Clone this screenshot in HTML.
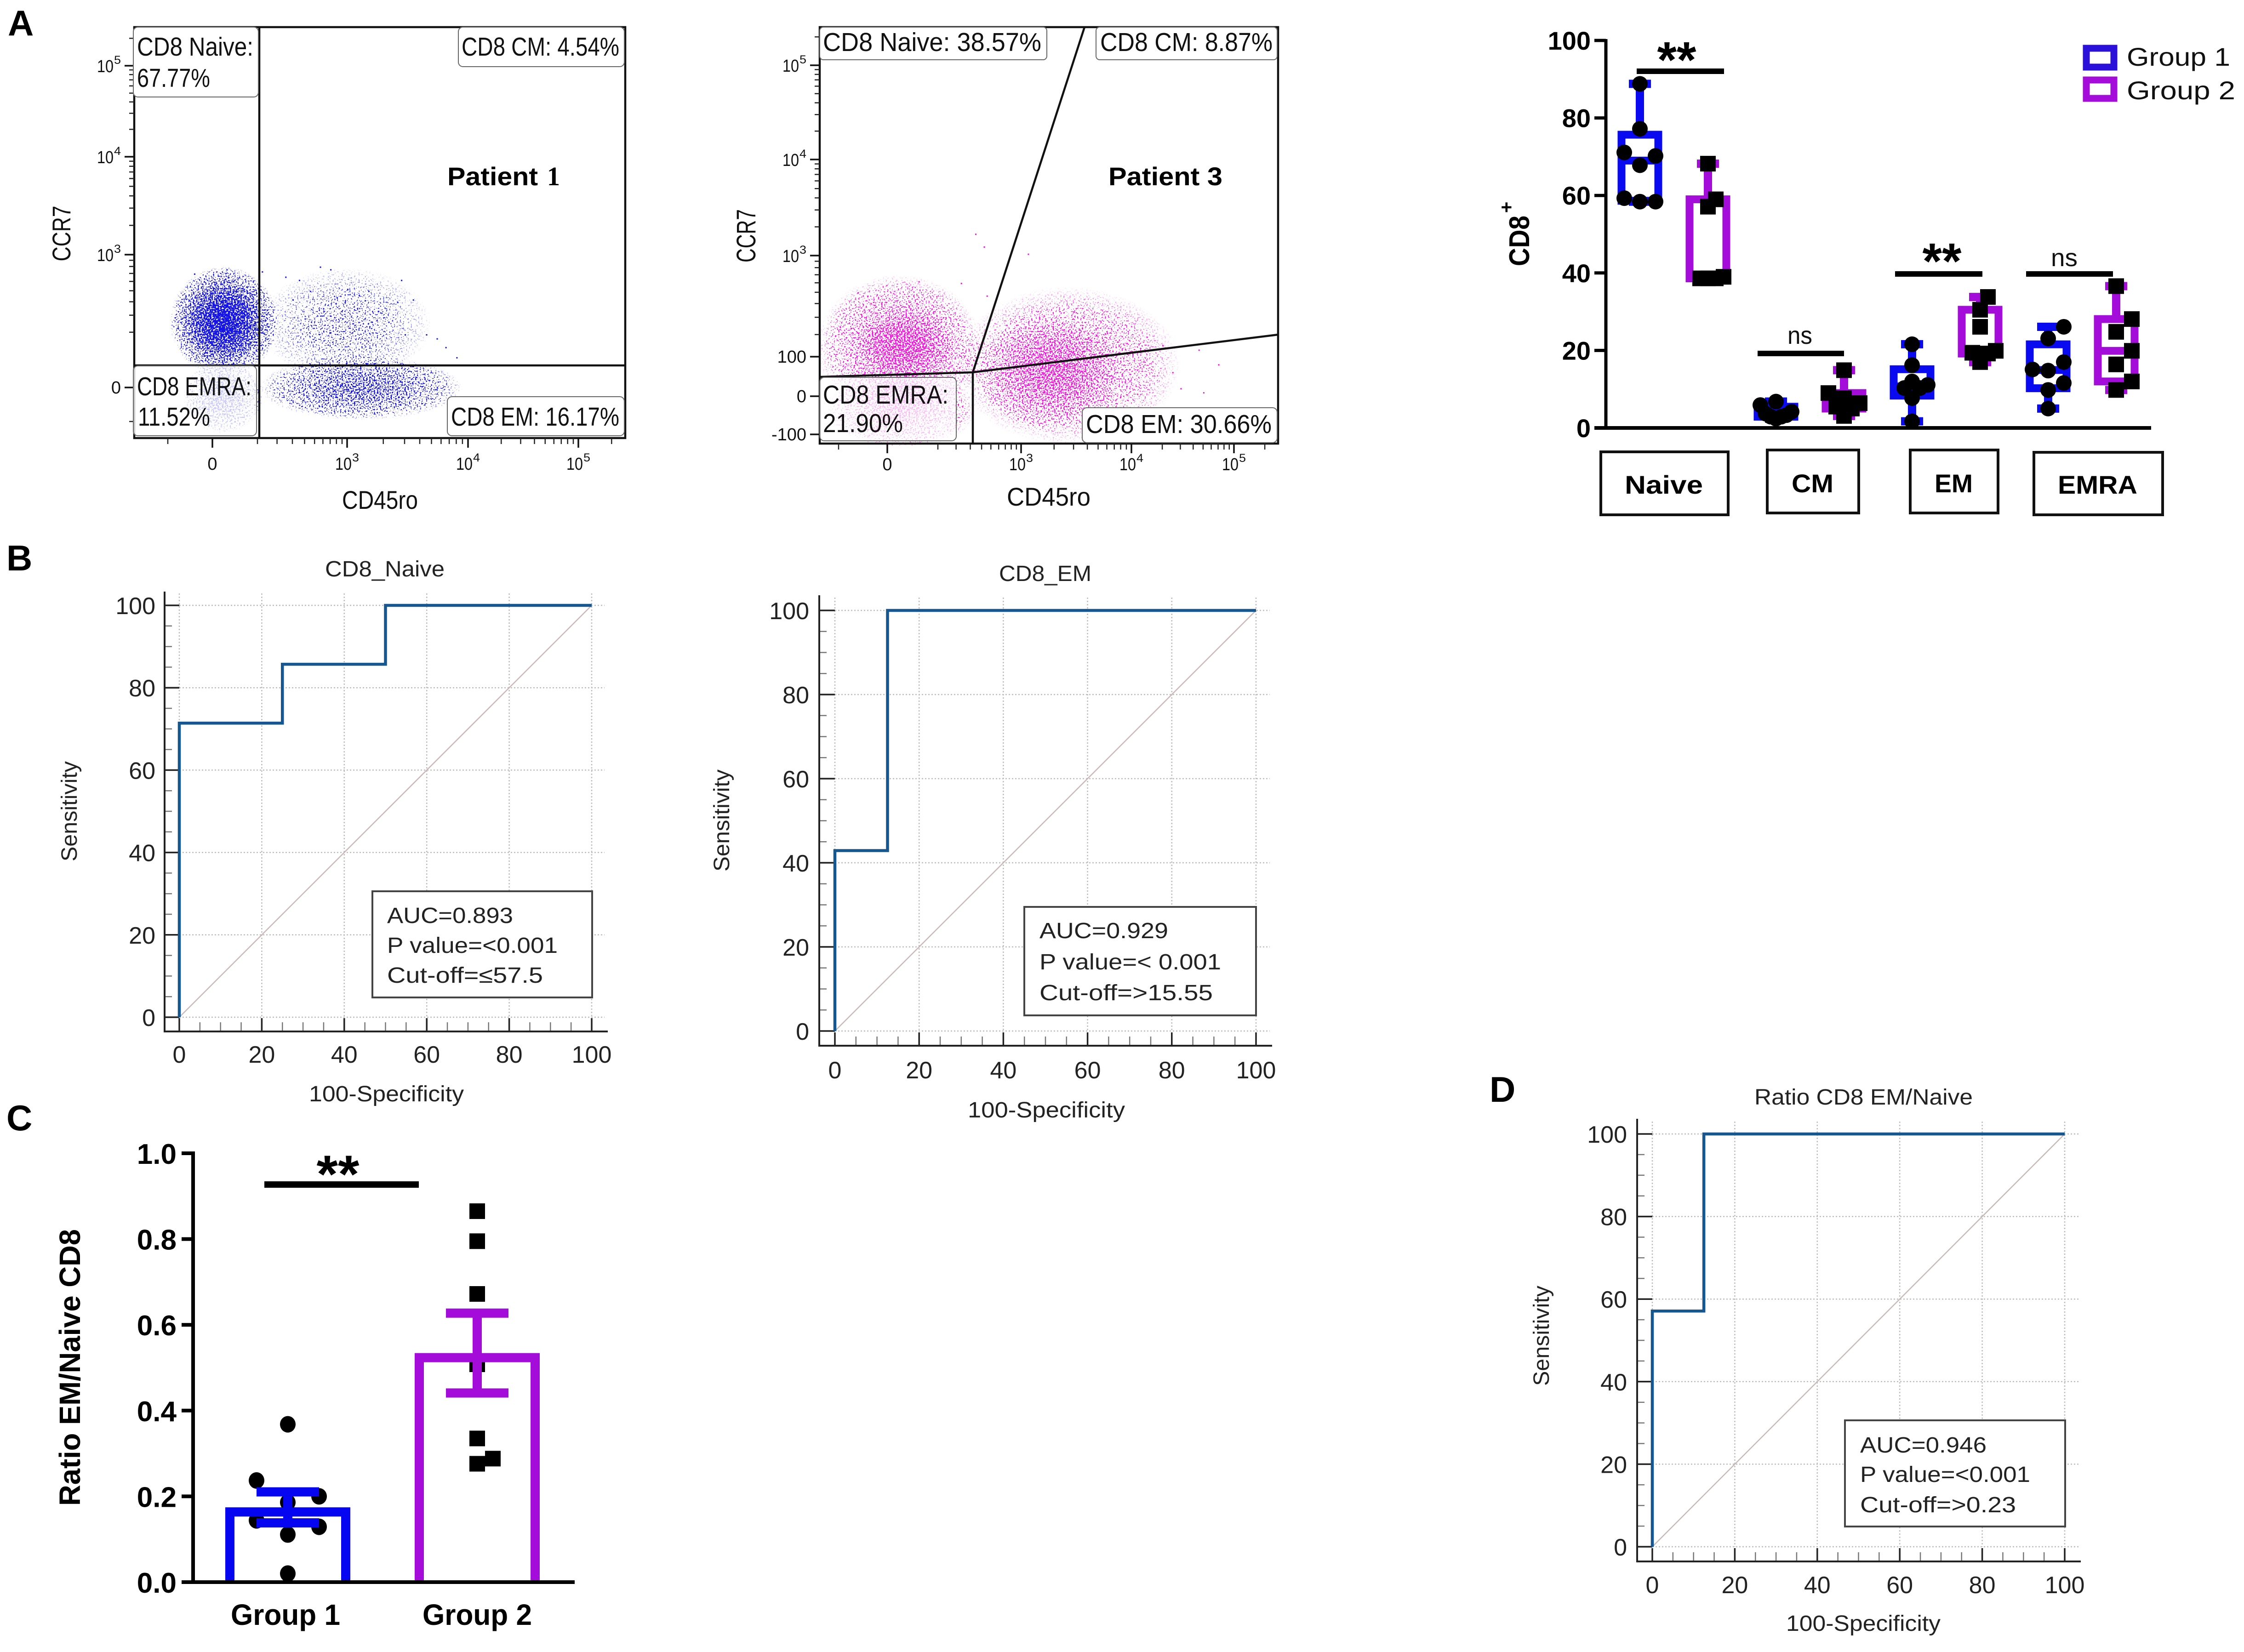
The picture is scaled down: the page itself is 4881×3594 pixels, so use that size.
<!DOCTYPE html>
<html lang="en">
<head>
<meta charset="utf-8">
<title>CD8 T-cell subset figure</title>
<style>
html,body{margin:0;padding:0;background:#fff;}
svg{display:block;}
text{font-family:"Liberation Sans",Arial,sans-serif;fill:#111;}
.b{font-weight:bold;fill:#000;}
.panel{font-weight:bold;font-size:78px;fill:#000;}
.roc{font-size:48px;fill:#222;}
.flow{font-size:57px;fill:#111;}
</style>
</head>
<body>
<svg id="figure" xmlns="http://www.w3.org/2000/svg" width="4881" height="3594" viewBox="0 0 4881 3594">
<defs>
<filter id="speckle-blue" filterUnits="userSpaceOnUse" x="280" y="50" width="1100" height="910" color-interpolation-filters="sRGB">
<feTurbulence type="fractalNoise" baseFrequency="0.3" numOctaves="2" seed="4" result="n"/>
<feColorMatrix in="n" type="matrix" values="0 0 0 0 0 0 0 0 0 0 0 0 0 0 0 3.2 0 0 0 -1.1" result="na"/>
<feComposite in="SourceAlpha" in2="na" operator="arithmetic" k1="0" k2="1" k3="1" k4="-1" result="sum"/>
<feComponentTransfer in="sum" result="mask"><feFuncA type="linear" slope="7"/></feComponentTransfer>
<feFlood flood-color="#1414e6"/>
<feComposite in2="mask" operator="in"/>
</filter>
<filter id="speckle-pink" filterUnits="userSpaceOnUse" x="1770" y="50" width="1020" height="920" color-interpolation-filters="sRGB">
<feTurbulence type="fractalNoise" baseFrequency="0.3" numOctaves="2" seed="9" result="n"/>
<feColorMatrix in="n" type="matrix" values="0 0 0 0 0 0 0 0 0 0 0 0 0 0 0 3.2 0 0 0 -1.1" result="na"/>
<feComposite in="SourceAlpha" in2="na" operator="arithmetic" k1="0" k2="1" k3="1" k4="-1" result="sum"/>
<feComponentTransfer in="sum" result="mask"><feFuncA type="linear" slope="7"/></feComponentTransfer>
<feFlood flood-color="#f414dc"/>
<feComposite in2="mask" operator="in"/>
</filter>
<radialGradient id="density-gradient">
<stop offset="0" stop-color="#000" stop-opacity="1"/>
<stop offset="0.35" stop-color="#000" stop-opacity="0.8"/>
<stop offset="0.6" stop-color="#000" stop-opacity="0.55"/>
<stop offset="0.85" stop-color="#000" stop-opacity="0.25"/>
<stop offset="1" stop-color="#000" stop-opacity="0"/>
</radialGradient>
</defs>

<rect x="0" y="0" width="4881" height="3594" fill="#fff"/>

<text class="panel" x="17" y="77">A</text>
<text class="panel" x="14" y="1241">B</text>
<text class="panel" x="14" y="2459">C</text>
<text class="panel" x="3240" y="2397">D</text>

<!-- Flow plot 1 -->
<g id="flow1"></g>
<g>
<line x1="564" y1="59" x2="564" y2="953" stroke="#111" stroke-width="4.5"/>
<line x1="292" y1="795" x2="1360" y2="795" stroke="#111" stroke-width="4.5"/>
<rect x="290" y="59" width="272" height="152" rx="10" fill="#fff" stroke="#666" stroke-width="2"/>
<rect x="997" y="59" width="361" height="86" rx="10" fill="#fff" stroke="#666" stroke-width="2"/>
<rect x="290" y="796" width="268" height="152" rx="10" fill="#fff" fill-opacity="0.78" stroke="#666" stroke-width="2"/>
<rect x="973" y="863" width="385" height="85" rx="10" fill="#fff" stroke="#666" stroke-width="2"/>
<text class="flow" x="298" y="121" textLength="253" lengthAdjust="spacingAndGlyphs">CD8 Naive:</text>
<text class="flow" x="298" y="189" textLength="159" lengthAdjust="spacingAndGlyphs">67.77%</text>
<text class="flow" x="1004" y="121" textLength="343" lengthAdjust="spacingAndGlyphs">CD8 CM: 4.54%</text>
<text class="flow" x="298" y="860" textLength="249" lengthAdjust="spacingAndGlyphs">CD8 EMRA:</text>
<text class="flow" x="300" y="926" textLength="157" lengthAdjust="spacingAndGlyphs">11.52%</text>
<text class="flow" x="981" y="926" textLength="366" lengthAdjust="spacingAndGlyphs">CD8 EM: 16.17%</text>
<text class="b" x="973" y="403" font-size="56" textLength="197" lengthAdjust="spacingAndGlyphs">Patient</text>
<text class="b" x="1190" y="403" font-size="58" textLength="28" lengthAdjust="spacingAndGlyphs" style="font-family:'Liberation Serif',serif">1</text>
<text x="744" y="1107" font-size="56" textLength="165" lengthAdjust="spacingAndGlyphs">CD45ro</text>
<text transform="translate(153,508) rotate(-90)" text-anchor="middle" font-size="56" textLength="121" lengthAdjust="spacingAndGlyphs">CCR7</text>
</g>

<!-- Flow plot 2 -->
<g id="flow2"></g>
<g>
<path d="M1783 820 L2116 810 L2780 728 M2116 810 L2359 59 M2116 810 L2116 965" fill="none" stroke="#111" stroke-width="4.5"/>
<rect x="1783" y="59" width="494" height="71" rx="8" fill="#fff" stroke="#666" stroke-width="2"/>
<rect x="2384" y="59" width="394" height="71" rx="8" fill="#fff" stroke="#666" stroke-width="2"/>
<rect x="1783" y="821" width="297" height="138" rx="10" fill="#fff" fill-opacity="0.72" stroke="#666" stroke-width="2"/>
<rect x="2354" y="887" width="424" height="76" rx="10" fill="#fff" stroke="#666" stroke-width="2"/>
<text class="flow" x="1790" y="111" textLength="475" lengthAdjust="spacingAndGlyphs">CD8 Naive: 38.57%</text>
<text class="flow" x="2393" y="111" textLength="375" lengthAdjust="spacingAndGlyphs">CD8 CM: 8.87%</text>
<text class="flow" x="1790" y="878" textLength="273" lengthAdjust="spacingAndGlyphs">CD8 EMRA:</text>
<text class="flow" x="1790" y="940" textLength="174" lengthAdjust="spacingAndGlyphs">21.90%</text>
<text class="flow" x="2362" y="942" textLength="404" lengthAdjust="spacingAndGlyphs">CD8 EM: 30.66%</text>
<text class="b" x="2411" y="403" font-size="56" textLength="248" lengthAdjust="spacingAndGlyphs">Patient 3</text>
<text x="2190" y="1100" font-size="56" textLength="182" lengthAdjust="spacingAndGlyphs">CD45ro</text>
<text transform="translate(1643,513) rotate(-90)" text-anchor="middle" font-size="58" textLength="116" lengthAdjust="spacingAndGlyphs">CCR7</text>
</g>

<!-- Box plot -->
<g id="boxplot"></g>
<g>
<text class="b" transform="translate(3326,524) rotate(-90)" text-anchor="middle" font-size="62" textLength="110" lengthAdjust="spacingAndGlyphs">CD8</text>
<text class="b" transform="translate(3291,451) rotate(-90)" text-anchor="middle" font-size="42">+</text>
<rect x="4538" y="105" width="60" height="41" fill="#fff" stroke="#2a10d8" stroke-width="15"/>
<rect x="4538" y="174" width="60" height="40" fill="#fff" stroke="#a30cd9" stroke-width="15"/>
<text x="4626" y="143" font-size="56" textLength="225" lengthAdjust="spacingAndGlyphs">Group 1</text>
<text x="4626" y="216" font-size="56" textLength="236" lengthAdjust="spacingAndGlyphs">Group 2</text>
<rect x="3560" y="149" width="190" height="12" fill="#000"/>
<text class="b" x="3647" y="168" text-anchor="middle" font-size="110" textLength="85" lengthAdjust="spacingAndGlyphs">**</text>
<rect x="3823" y="763" width="188" height="12" fill="#000"/>
<text x="3915" y="748" text-anchor="middle" font-size="54" textLength="54" lengthAdjust="spacingAndGlyphs">ns</text>
<rect x="4122" y="590" width="190" height="12" fill="#000"/>
<text class="b" x="4224" y="606" text-anchor="middle" font-size="110" textLength="85" lengthAdjust="spacingAndGlyphs">**</text>
<rect x="4407" y="590" width="189" height="12" fill="#000"/>
<text x="4490" y="579" text-anchor="middle" font-size="54" textLength="58" lengthAdjust="spacingAndGlyphs">ns</text>
<rect x="3482" y="983" width="277" height="137" fill="#fff" stroke="#111" stroke-width="6"/>
<rect x="3844" y="979" width="199" height="137" fill="#fff" stroke="#111" stroke-width="6"/>
<rect x="4155" y="979" width="191" height="137" fill="#fff" stroke="#111" stroke-width="6"/>
<rect x="4424" y="984" width="280" height="136" fill="#fff" stroke="#111" stroke-width="6"/>
<text class="b" x="3534" y="1074" font-size="56" textLength="170" lengthAdjust="spacingAndGlyphs">Naive</text>
<text class="b" x="3897" y="1071" font-size="56" textLength="91" lengthAdjust="spacingAndGlyphs">CM</text>
<text class="b" x="4208" y="1071" font-size="56" textLength="83" lengthAdjust="spacingAndGlyphs">EM</text>
<text class="b" x="4476" y="1074" font-size="56" textLength="173" lengthAdjust="spacingAndGlyphs">EMRA</text>
</g>

<!-- ROC plots -->
<g id="roc-naive"></g>
<g>
<text class="roc" x="707" y="1254" textLength="260" lengthAdjust="spacingAndGlyphs">CD8_Naive</text>
<text class="roc" x="672" y="2396" textLength="337" lengthAdjust="spacingAndGlyphs">100-Specificity</text>
<text class="roc" transform="translate(167,1765) rotate(-90)" text-anchor="middle" textLength="218" lengthAdjust="spacingAndGlyphs">Sensitivity</text>
<rect x="810" y="1939" width="478" height="231" fill="#fff" stroke="#444" stroke-width="4"/>
<text class="roc" x="842" y="2008" textLength="274" lengthAdjust="spacingAndGlyphs">AUC=0.893</text>
<text class="roc" x="842" y="2073" textLength="371" lengthAdjust="spacingAndGlyphs">P value=&lt;0.001</text>
<text class="roc" x="842" y="2138" textLength="339" lengthAdjust="spacingAndGlyphs">Cut-off=≤57.5</text>
</g>

<g id="roc-em"></g>
<g>
<text class="roc" x="2173" y="1264" textLength="201" lengthAdjust="spacingAndGlyphs">CD8_EM</text>
<text class="roc" x="2105" y="2431" textLength="342" lengthAdjust="spacingAndGlyphs">100-Specificity</text>
<text class="roc" transform="translate(1586,1785) rotate(-90)" text-anchor="middle" textLength="222" lengthAdjust="spacingAndGlyphs">Sensitivity</text>
<rect x="2228" y="1973" width="504" height="236" fill="#fff" stroke="#444" stroke-width="4"/>
<text class="roc" x="2261" y="2041" textLength="280" lengthAdjust="spacingAndGlyphs">AUC=0.929</text>
<text class="roc" x="2261" y="2109" textLength="395" lengthAdjust="spacingAndGlyphs">P value=&lt; 0.001</text>
<text class="roc" x="2261" y="2176" textLength="377" lengthAdjust="spacingAndGlyphs">Cut-off=&gt;15.55</text>
</g>

<g id="roc-ratio"></g>
<g>
<text class="roc" x="3816" y="2403" textLength="475" lengthAdjust="spacingAndGlyphs">Ratio CD8 EM/Naive</text>
<text class="roc" x="3885" y="3548" textLength="336" lengthAdjust="spacingAndGlyphs">100-Specificity</text>
<text class="roc" transform="translate(3369,2906) rotate(-90)" text-anchor="middle" textLength="218" lengthAdjust="spacingAndGlyphs">Sensitivity</text>
<rect x="4013" y="3090" width="479" height="231" fill="#fff" stroke="#444" stroke-width="4"/>
<text class="roc" x="4046" y="3160" textLength="275" lengthAdjust="spacingAndGlyphs">AUC=0.946</text>
<text class="roc" x="4046" y="3224" textLength="370" lengthAdjust="spacingAndGlyphs">P value=&lt;0.001</text>
<text class="roc" x="4046" y="3290" textLength="339" lengthAdjust="spacingAndGlyphs">Cut-off=&gt;0.23</text>
</g>

<!-- Bar plot -->
<g id="barplot"></g>
<g>
<text class="b" transform="translate(174,2975) rotate(-90)" text-anchor="middle" font-size="64" textLength="602" lengthAdjust="spacingAndGlyphs">Ratio EM/Naive CD8</text>
<rect x="575" y="2570" width="336" height="14" fill="#000"/>
<text class="b" x="735" y="2594" text-anchor="middle" font-size="115" textLength="93" lengthAdjust="spacingAndGlyphs">**</text>
</g>

<script>
/* ---------- Flow cytometry data ---------- */
const flowDecadeExponents = [3, 4, 5];
const flowAxisValues = [-100, 0, 100, 1000, 10000, 100000];
const flow1MajorY = [0, 1000, 10000, 100000];
const flow2MajorY = [-100, 0, 100, 1000, 10000, 100000];
/* population ranges: [CD45ro low, high, CCR7 low, high, density] */
const flow1Populations = [
  [-95, 205, 30, 800, 1],
  [-65, 125, -140, 85, 0.62],
  [110, 5000, 20, 780, 0.2],
  [110, 9000, -95, 95, 0.5]
];
const flow2Populations = [
  [-150, 400, -60, 700, 0.5],
  [-55, 210, 40, 340, 0.34],
  [200, 30000, -130, 560, 0.33],
  [350, 8000, -85, 300, 0.42],
  [-130, 350, -140, 60, 0.46]
];
const flow1StrayCD45 = [-40, 30, 120, 250, 350, 560, 700, 1000, 1250, 2800, 3500, 2600, 1500, 1800, 800, 450, 600, 900, 2200, 4500, 5500, 6500, 8000, 3000, 1600, 700, 400, 300];
const flow1StrayCCR7 = [700, 760, 730, 660, 620, 800, 760, 520, 460, 620, 420, 400, 500, 330, 440, 500, 350, 280, 260, 190, 170, 130, 90, 190, 260, 200, 280, 420];
const flow2StrayCD45 = [340, 420, 1150, 60, -60, 230, 450, 3000, 4800, 6000, 9000, 14000, 20000, 25000, 45000, 70000, 30000, 12000, 50000];
const flow2StrayCCR7 = [1700, 1250, 1050, 620, 500, 600, 470, 340, 200, 210, 160, 190, 150, 60, 130, 80, 20, -30, 10];

/* ---------- Box plot data (CD8+ %) ---------- */
const subsetNames = ['naive', 'cm', 'em', 'emra'];
const naiveGroup1 = [88.8, 77.2, 70.2, 71.1, 67.8, 58.4, 59.3, 58.4];
const naiveGroup2 = [68.2, 59, 57.1, 38.6, 39, 38.6, 38.6];
const cmGroup1 = [5.9, 6.8, 3.3, 2.9, 3.7, 2.4, 2.9, 4.2];
const cmGroup2 = [14.9, 7.7, 9, 5, 5.5, 6.4, 3.1];
const emGroup1 = [21.6, 16.2, 11.1, 12, 10.3, 10.3, 7.7, 1.7];
const emGroup2 = [33.8, 30.5, 26.1, 19.9, 19.2, 19.4, 17];
const emraGroup1 = [26.1, 23.1, 17, 14.8, 15.1, 11.6, 9.8, 5];
const emraGroup2 = [36.6, 28.1, 24.8, 19.9, 16.4, 12, 9.8];
const boxTicks = [0, 20, 40, 60, 80, 100];

/* ---------- ROC data ---------- */
const rocTicks = [0, 20, 40, 60, 80, 100];
const rocNaiveFpr = [0, 0, 25, 25, 50, 50, 100];
const rocNaiveTpr = [0, 71.4, 71.4, 85.7, 85.7, 100, 100];
const rocEmFpr = [0, 0, 12.5, 12.5, 100];
const rocEmTpr = [0, 42.9, 42.9, 100, 100];
const rocRatioFpr = [0, 0, 12.5, 12.5, 100];
const rocRatioTpr = [0, 57.1, 57.1, 100, 100];

/* ---------- Bar plot data ---------- */
const barCategories = ['Group 1', 'Group 2'];
const ratioGroup1 = [0.368, 0.237, 0.2, 0.186, 0.144, 0.129, 0.111, 0.02];
const ratioGroup2 = [0.865, 0.795, 0.672, 0.508, 0.335, 0.288, 0.276];
const barTicks = ['0.0', '0.2', '0.4', '0.6', '0.8', '1.0'];

const NS = 'http://www.w3.org/2000/svg';
function mk(parent, tag, attrs, txt) {
  const el = document.createElementNS(NS, tag);
  for (const k in attrs) el.setAttribute(k, attrs[k]);
  if (txt !== undefined) el.textContent = txt;
  parent.appendChild(el);
  return el;
}
function pieceAxis(values, pixels) {
  const t = v => Math.asinh(v / 200);
  return function (v) {
    const tv = t(v);
    let i = 0;
    while (i < values.length - 2 && tv > t(values[i + 1])) i++;
    const a = t(values[i]), b = t(values[i + 1]);
    return pixels[i] + (tv - a) / (b - a) * (pixels[i + 1] - pixels[i]);
  };
}
function percentile(sorted, p) {
  const pos = Math.min(sorted.length, Math.max(1, p * (sorted.length + 1)));
  const lo = Math.floor(pos), hi = Math.min(sorted.length, lo + 1);
  return sorted[lo - 1] + (pos - lo) * (sorted[hi - 1] - sorted[lo - 1]);
}
function swarm(vals, scale, step, minDist, maxOff, topDown) {
  const order = vals.map((v, i) => i).sort((a, b) => topDown ? vals[b] - vals[a] : vals[a] - vals[b]);
  const placed = [];
  const out = new Array(vals.length);
  order.forEach(i => {
    const py = scale(vals[i]);
    for (let k = 0; k < 30; k++) {
      const off = k === 0 ? 0 : (k % 2 ? 1 : -1) * Math.ceil(k / 2) * step;
      if (!placed.some(p => Math.abs(p.off - off) < 1 && Math.abs(p.y - py) < minDist)) {
        placed.push({ off: off, y: py });
        out[i] = off;
        break;
      }
    }
  });
  const m = Math.max(...out.map(Math.abs));
  return out.map(o => (m > maxOff ? o * maxOff / m : o));
}

/* ---------- Flow plot renderer ---------- */
function drawFlow(rootId, box, xPix, yPix, majorY, pops, strayX, strayY, filterId, dotColor) {
  const root = document.getElementById(rootId);
  const X = pieceAxis(flowAxisValues, xPix);
  const Y = pieceAxis(flowAxisValues, yPix);
  const cloud = mk(root, 'g', { filter: 'url(#' + filterId + ')' });
  
  
  pops.forEach(p => {
    const x1 = X(p[0]), x2 = X(p[1]), y1 = Y(p[2]), y2 = Y(p[3]);
    const e = mk(cloud, 'ellipse', { cx: (x1 + x2) / 2, cy: (y1 + y2) / 2, rx: Math.abs(x2 - x1) / 2, ry: Math.abs(y2 - y1) / 2, fill: 'url(#density-gradient)', opacity: p[4] });
    
    
  });
  let strayPath = '';
  strayX.forEach((v, i) => { strayPath += 'M' + X(v).toFixed(1) + ' ' + Y(strayY[i]).toFixed(1) + 'h3v3h-3z'; });
  const stray = mk(root, 'path', { d: strayPath, fill: dotColor });
  
  

  const frame = mk(root, 'path', { d: 'M' + box.l + ' ' + box.t + 'H' + box.r + 'V' + box.b + 'H' + box.l + 'Z', fill: 'none', stroke: '#111', 'stroke-width': 4.5 });
  
  

  let minor = '';
  for (let e = 2; e <= 5; e++) {
    for (let m = 2; m <= 9; m++) {
      const v = m * Math.pow(10, e);
      if (Y(v) > box.t) minor += 'M' + (box.l - 11) + ' ' + Y(v).toFixed(1) + 'h11';
      if (X(v) < box.r) minor += 'M' + X(v).toFixed(1) + ' ' + box.b + 'v13';
    }
  }
  minor += 'M' + X(-100) + ' ' + box.b + 'v13M' + X(100) + ' ' + box.b + 'v13M' + (box.l - 11) + ' ' + Y(-100) + 'h11';
  const minorTicks = mk(root, 'path', { d: minor, stroke: '#222', 'stroke-width': 2.5, fill: 'none' });
  
  

  let major = '';
  majorY.forEach(v => { major += 'M' + (box.l - 21) + ' ' + Y(v) + 'h21'; });
  [0].concat(flowDecadeExponents.map(e => Math.pow(10, e))).forEach(v => { major += 'M' + X(v) + ' ' + box.b + 'v21'; });
  const majorTicks = mk(root, 'path', { d: major, stroke: '#111', 'stroke-width': 3.5, fill: 'none' });
  
  

  const right = box.l - 29;
  flowDecadeExponents.forEach(e => {
    const v = Math.pow(10, e);
    const yb = mk(root, 'text', { x: right - 52, y: Y(v) + 14, 'font-size': 38, textLength: 36, lengthAdjust: 'spacingAndGlyphs' }, '10');
    
    
    const ye = mk(root, 'text', { x: right - 15, y: Y(v) - 4, 'font-size': 25, textLength: 15, lengthAdjust: 'spacingAndGlyphs' }, String(e));
    
    
    const xb = mk(root, 'text', { x: X(v) - 26, y: box.xLabelY, 'font-size': 38, textLength: 36, lengthAdjust: 'spacingAndGlyphs' }, '10');
    
    
    const xe = mk(root, 'text', { x: X(v) + 11, y: box.xLabelY - 18, 'font-size': 25, textLength: 15, lengthAdjust: 'spacingAndGlyphs' }, String(e));
    
    
  });
  majorY.filter(v => Math.abs(v) <= 100).forEach(v => {
    const t = mk(root, 'text', { x: right, y: Y(v) + 13, 'font-size': 38, 'text-anchor': 'end' }, String(v));
    
    
  });
  const xz = mk(root, 'text', { x: X(0), y: box.xLabelY, 'font-size': 38, 'text-anchor': 'middle' }, '0');
  
  
}
drawFlow('flow1', { l: 292, r: 1360, t: 59, b: 953, xLabelY: 1022 }, [365, 462, 560, 755, 1018, 1258], [917, 843, 770, 554, 341, 143], flow1MajorY, flow1Populations, flow1StrayCD45, flow1StrayCCR7, 'speckle-blue', '#1414e6');
drawFlow('flow2', { l: 1783, r: 2780, t: 59, b: 965, xLabelY: 1023 }, [1824, 1930, 2040, 2221, 2461, 2684], [945, 862, 776, 556, 347, 142], flow2MajorY, flow2Populations, flow2StrayCD45, flow2StrayCCR7, 'speckle-pink', '#f414dc');

/* ---------- Box plot ---------- */
(function () {
  const root = document.getElementById('boxplot');
  const Y = v => 931 - v * 8.43;
  const X = i => 3567 + i * 148;
  const series = [naiveGroup1, naiveGroup2, cmGroup1, cmGroup2, emGroup1, emGroup2, emraGroup1, emraGroup2];
  const colors = ['#0a0af0', '#a30cd9'];

  const yAxis = mk(root, 'line', { x1: 3493, y1: Y(100) - 3, x2: 3493, y2: Y(0), stroke: '#000', 'stroke-width': 7 });
  
  
  const xAxis = mk(root, 'line', { x1: 3468, y1: Y(0), x2: 4679, y2: Y(0), stroke: '#000', 'stroke-width': 8 });
  
  
  boxTicks.forEach(v => {
    const t = mk(root, 'line', { x1: 3468, y1: Y(v), x2: 3493, y2: Y(v), stroke: '#000', 'stroke-width': 7 });
    
    
    const l = mk(root, 'text', { x: 3460, y: Y(v) + 20, 'text-anchor': 'end', 'font-size': 56, class: 'b' }, String(v));
    
    
  });

  series.forEach((vals, i) => {
    const color = colors[i % 2];
    const cx = X(i);
    const s = vals.slice().sort((a, b) => a - b);
    const q1 = percentile(s, 0.25), med = percentile(s, 0.5), q3 = percentile(s, 0.75);
    const lo = s[0], hi = s[s.length - 1];
    const g = mk(root, 'g', {});
    
    
    const whisker = mk(g, 'path', { d: 'M' + cx + ' ' + Y(hi) + 'V' + Y(lo) + 'M' + (cx - 24) + ' ' + Y(hi) + 'H' + (cx + 24) + 'M' + (cx - 24) + ' ' + Y(lo) + 'H' + (cx + 24), stroke: color, 'stroke-width': 18, fill: 'none' });
    
    
    const box = mk(g, 'rect', { x: cx - 40, y: Y(q3), width: 80, height: Y(q1) - Y(q3), fill: '#fff', stroke: color, 'stroke-width': 17 });
    
    
    const median = mk(g, 'line', { x1: cx - 40, x2: cx + 40, y1: Y(med), y2: Y(med), stroke: color, 'stroke-width': 17 });
    
    
    const offs = swarm(vals, Y, 34, 34, 34, false);
    vals.forEach((v, k) => {
      if (i % 2 === 0) {
        const c = mk(g, 'circle', { cx: cx + offs[k], cy: Y(v), r: 17, fill: '#000' });
        
        
      } else {
        const r = mk(g, 'rect', { x: cx + offs[k] - 17, y: Y(v) - 17, width: 34, height: 34, fill: '#000' });
        
        
      }
    });
  });
})();

/* ---------- ROC renderer ---------- */
function drawRoc(rootId, L, fpr, tpr) {
  const root = document.getElementById(rootId);
  const X = v => L.x0 + v * (L.x100 - L.x0) / 100;
  const Y = v => L.y0 + v * (L.y100 - L.y0) / 100;

  let grid = '';
  rocTicks.forEach(v => {
    grid += 'M' + L.x0 + ' ' + Y(v) + 'H' + L.gridRight;
    grid += 'M' + X(v) + ' ' + L.gridTop + 'V' + L.y0;
  });
  const gridEl = mk(root, 'path', { d: grid, stroke: '#bdbdbd', 'stroke-width': 2.5, 'stroke-dasharray': '3 4', fill: 'none' });
  
  

  const diag = mk(root, 'line', { x1: X(0), y1: Y(0), x2: X(100), y2: Y(100), stroke: '#c9b9b9', 'stroke-width': 2.5 });
  
  

  let minor = '';
  for (let v = 0; v <= 100; v += 5) {
    if (v % 20 !== 0) {
      minor += 'M' + L.axisX + ' ' + Y(v) + 'h16';
      minor += 'M' + X(v) + ' ' + L.axisY + 'v-20';
    }
  }
  const minorEl = mk(root, 'path', { d: minor, stroke: '#777', 'stroke-width': 2.5, fill: 'none' });
  
  

  let major = '';
  rocTicks.forEach(v => {
    major += 'M' + L.axisX + ' ' + Y(v) + 'H' + L.x0;
    major += 'M' + X(v) + ' ' + L.axisY + 'v-29';
  });
  const majorEl = mk(root, 'path', { d: major, stroke: '#222', 'stroke-width': 3.5, fill: 'none' });
  
  

  const axes = mk(root, 'path', { d: 'M' + L.axisX + ' ' + L.axisTop + 'V' + L.axisY + 'H' + L.axisRight, stroke: '#222', 'stroke-width': 4, fill: 'none' });
  
  

  rocTicks.forEach(v => {
    const yl = mk(root, 'text', { x: L.labelRight, y: Y(v) + 19, 'text-anchor': 'end', 'font-size': 52, fill: '#222' }, String(v));
    
    
    yl.style.fill = '#222';
    const xl = mk(root, 'text', { x: X(v), y: L.xLabelY, 'text-anchor': 'middle', 'font-size': 52 }, String(v));
    
    
    xl.style.fill = '#222';
  });

  const pts = fpr.map((f, i) => X(f) + ',' + Y(tpr[i])).join(' ');
  const curve = mk(root, 'polyline', { points: pts, fill: 'none', stroke: '#17578f', 'stroke-width': 6.5, 'stroke-linejoin': 'miter' });
  
  
}
drawRoc('roc-naive', { x0: 390, x100: 1287, y0: 2213, y100: 1317, axisX: 358, axisY: 2244, axisTop: 1287, axisRight: 1322, gridRight: 1315, gridTop: 1291, labelRight: 338, xLabelY: 2312 }, rocNaiveFpr, rocNaiveTpr);
drawRoc('roc-em', { x0: 1816, x100: 2732, y0: 2243, y100: 1328, axisX: 1782, axisY: 2275, axisTop: 1295, axisRight: 2767, gridRight: 2762, gridTop: 1300, labelRight: 1760, xLabelY: 2346 }, rocEmFpr, rocEmTpr);
drawRoc('roc-ratio', { x0: 3594, x100: 4491, y0: 3365, y100: 2467, axisX: 3561, axisY: 3397, axisTop: 2434, axisRight: 4526, gridRight: 4521, gridTop: 2440, labelRight: 3539, xLabelY: 3466 }, rocRatioFpr, rocRatioTpr);

/* ---------- Bar plot ---------- */
(function () {
  const root = document.getElementById('barplot');
  const Y = v => 3442 - v * 933;
  const X = i => 626 + i * 412;
  const groups = [ratioGroup1, ratioGroup2];
  const colors = ['#0505f2', '#a30cd9'];

  groups.forEach((vals, i) => {
    const step = i === 0 ? 68 : 34;
    const offs = swarm(vals, Y, step, 51, step, i === 1);
    vals.forEach((v, k) => {
      if (i === 0) {
        const c = mk(root, 'ellipse', { cx: X(i) + offs[k], cy: Y(v), rx: 17, ry: 18, fill: '#000' });
        
        
      } else {
        const r = mk(root, 'rect', { x: X(i) + offs[k] - 17, y: Y(v) - 17, width: 34, height: 34, fill: '#000' });
        
        
      }
    });
  });

  groups.forEach((vals, i) => {
    const n = vals.length;
    const mean = vals.reduce((a, b) => a + b, 0) / n;
    const sd = Math.sqrt(vals.reduce((a, b) => a + (b - mean) * (b - mean), 0) / (n - 1));
    const sem = sd / Math.sqrt(n);
    const cx = X(i);
    const top = Y(mean) + 10;
    const bar = mk(root, 'path', { d: 'M' + (cx - 126) + ' ' + Y(0) + 'V' + top + 'H' + (cx + 126) + 'V' + Y(0), fill: 'none', stroke: colors[i], 'stroke-width': 20 });
    
    
    const err = mk(root, 'path', { d: 'M' + cx + ' ' + Y(mean + sem) + 'V' + Y(mean - sem) + 'M' + (cx - 68) + ' ' + Y(mean + sem) + 'h136M' + (cx - 68) + ' ' + Y(mean - sem) + 'h136', fill: 'none', stroke: colors[i], 'stroke-width': 20 });
    
    
    const lab = mk(root, 'text', { x: cx - 5 + i * 5, y: 3535, 'text-anchor': 'middle', 'font-size': 64, class: 'b', textLength: 238, lengthAdjust: 'spacingAndGlyphs' }, barCategories[i]);
    
    
  });

  const yAxis = mk(root, 'line', { x1: 420, y1: Y(1) - 4, x2: 420, y2: Y(0), stroke: '#000', 'stroke-width': 8 });
  
  
  const xAxis = mk(root, 'line', { x1: 395, y1: Y(0), x2: 1250, y2: Y(0), stroke: '#000', 'stroke-width': 8 });
  
  
  barTicks.forEach(lbl => {
    const v = parseFloat(lbl);
    const t = mk(root, 'line', { x1: 395, y1: Y(v), x2: 420, y2: Y(v), stroke: '#000', 'stroke-width': 8 });
    
    
    const l = mk(root, 'text', { x: 384, y: Y(v) + 23, 'text-anchor': 'end', 'font-size': 62, class: 'b' }, lbl);
    
    
  });
})();
</script>
</svg>
</body>
</html>
